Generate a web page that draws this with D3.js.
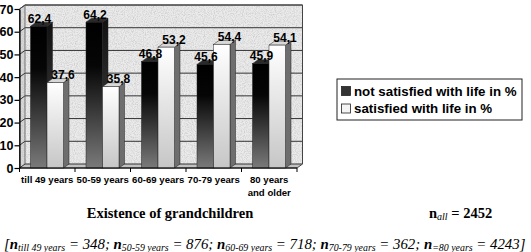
<!DOCTYPE html>
<html>
<head>
<meta charset="utf-8">
<script src="https://cdn.jsdelivr.net/npm/d3@7"></script>
<style>
  body { margin: 0; background: #fff; }
  svg { display: block; }
  .axis text { font-family: Arial, "Liberation Sans", sans-serif; font-weight: bold; }
</style>
</head>
<body>
<svg width="531" height="252"></svg>
<script>
// values
var categories = ["till 49 years", "50-59 years", "60-69 years", "70-79 years", "80 years|and older"];
var notSatisfied = [62.4, 64.2, 46.8, 45.6, 45.9];
var satisfied = [37.6, 35.8, 53.2, 54.4, 54.1];
var seriesNames = ["not satisfied with life in %", "satisfied with life in %"];
var yTicks = [0, 10, 20, 30, 40, 50, 60, 70];
var nLabels = ["till 49 years", "50-59 years", "60-69 years", "70-79 years", "=80 years"];
var nValues = [348, 876, 718, 362, 4243];
var nAll = 2452;

var svg = d3.select("svg");
var defs = svg.append("defs");

// speckled wall texture
var f = defs.append("filter").attr("id", "speck").attr("x", 0).attr("y", 0).attr("width", "100%").attr("height", "100%");
f.append("feTurbulence").attr("type", "fractalNoise").attr("baseFrequency", 0.9).attr("numOctaves", 2).attr("seed", 4).attr("result", "n");
f.append("feColorMatrix").attr("in", "n").attr("type", "matrix")
    .attr("values", "0 0 0 0 0.45  0 0 0 0 0.45  0 0 0 0 0.45  1.3 0 0 0 -0.5").attr("result", "g");
f.append("feComposite").attr("in", "g").attr("in2", "SourceGraphic").attr("operator", "in").attr("result", "c");
var fm = f.append("feMerge");
fm.append("feMergeNode").attr("in", "SourceGraphic");
fm.append("feMergeNode").attr("in", "c");

function gradient(id, stops) {
    var lg = defs.append("linearGradient").attr("id", id).attr("x1", 0).attr("y1", 0).attr("x2", 0).attr("y2", 1);
    stops.forEach(function (s) { lg.append("stop").attr("offset", s[0]).attr("stop-color", s[1]); });
}
gradient("darkFront", [[0, "#000"], [0.3, "#060606"], [1, "#7a7a7a"]]);
gradient("darkSide", [[0, "#111"], [1, "#4a4a4a"]]);
gradient("lightFront", [[0, "#fff"], [1, "#c6c6c6"]]);

var styles = [
    {front: "url(#darkFront)", side: "url(#darkSide)", top: "#2a2a2a", labelDx: -2},
    {front: "url(#lightFront)", side: "#6e6e6e", top: "#d8d8d8", labelDx: 5}
];

var left = 19.5, right = 297, dx = 5.5, dy = -4;
var y = d3.scaleLinear().domain([0, 70]).range([168, 9]);
var x = d3.scaleBand().domain(categories).range([left, right]);
var xs = d3.scaleBand().domain([0, 1]).range([11, 44]);

var g = svg.append("g");

// walls and floor
var y0 = y(0), yTop = y(70);
g.append("polygon")
    .attr("points", [[left + dx, yTop + dy], [right + dx, yTop + dy], [right + dx, y0 + dy], [left + dx, y0 + dy]].join(" "))
    .attr("fill", "#ebebeb").attr("filter", "url(#speck)");
g.append("polygon")
    .attr("points", [[left, yTop], [left + dx, yTop + dy], [left + dx, y0 + dy], [left, y0]].join(" "))
    .attr("fill", "#d8d8d8").attr("filter", "url(#speck)");
g.append("polygon")
    .attr("points", [[left, y0], [left + dx, y0 + dy], [right + dx, y0 + dy], [right, y0]].join(" "))
    .attr("fill", "#c2c2c2");

// gridlines on back and side wall
yTicks.forEach(function (t) {
    g.append("polyline")
        .attr("points", [[left, y(t)], [left + dx, y(t) + dy], [right + dx, y(t) + dy]].join(" "))
        .attr("fill", "none").attr("stroke", "#333").attr("stroke-width", 1);
});
g.append("polygon")
    .attr("points", [[left + dx, yTop + dy], [right + dx, yTop + dy], [right + dx, y0 + dy], [right, y0], [left, y0], [left, yTop]].join(" "))
    .attr("fill", "none").attr("stroke", "#444").attr("stroke-width", 1);
g.append("line").attr("x1", left + dx).attr("x2", left + dx).attr("y1", yTop + dy).attr("y2", y0 + dy)
    .attr("stroke", "#555").attr("stroke-width", 0.8);

// bars
var series = [notSatisfied, satisfied];
var bw = xs.bandwidth();
var labels = [];
categories.forEach(function (c, i) {
    series.forEach(function (vals, j) {
        var v = vals[i];
        var x0 = x(c) + xs(j), yv = y(v), st = styles[j];
        var bar = g.append("g");
        bar.append("polygon")
            .attr("points", [[x0 + bw, yv], [x0 + bw + dx, yv + dy], [x0 + bw + dx, y0 + dy], [x0 + bw, y0]].join(" "))
            .attr("fill", st.side).attr("stroke", "#222").attr("stroke-width", 0.5);
        bar.append("polygon")
            .attr("points", [[x0, yv], [x0 + dx, yv + dy], [x0 + bw + dx, yv + dy], [x0 + bw, yv]].join(" "))
            .attr("fill", st.top).attr("stroke", "#222").attr("stroke-width", 0.5);
        bar.append("rect")
            .attr("x", x0).attr("y", yv).attr("width", bw).attr("height", y0 - yv)
            .attr("fill", st.front).attr("stroke", "#222").attr("stroke-width", 0.5);
        labels.push({x: x0 + bw / 2 + dx / 2 + st.labelDx, y: yv - 3.5, v: v});
    });
});
g.selectAll(".val").data(labels).enter().append("text")
    .attr("class", "val")
    .attr("x", function (d) { return d.x; }).attr("y", function (d) { return d.y; })
    .attr("text-anchor", "middle")
    .style("font", "bold 12px Arial, 'Liberation Sans', sans-serif")
    .text(function (d) { return d3.format(".1f")(d.v).replace(".", ","); });

// y axis
var yAxis = g.append("g").attr("class", "axis").attr("transform", "translate(" + left + ",0)")
    .call(d3.axisLeft(y).tickValues(yTicks).tickSize(5).tickSizeOuter(0).tickPadding(1));
yAxis.selectAll("path, line").attr("stroke", "#000").attr("stroke-width", 1.2);
yAxis.selectAll("text").style("font-size", "12.5px").attr("fill", "#000");

// category axis: ticks on band boundaries, labels in band centres
var bounds = categories.map(function (c) { return x(c); }).concat([right]);
g.selectAll(".xt").data(bounds).enter().append("line")
    .attr("x1", function (d) { return d; }).attr("x2", function (d) { return d; })
    .attr("y1", y0).attr("y2", y0 + 4).attr("stroke", "#000");
g.append("line").attr("x1", left).attr("x2", right).attr("y1", y0).attr("y2", y0).attr("stroke", "#000").attr("stroke-width", 1.2);
categories.forEach(function (c) {
    var t = g.append("text").attr("text-anchor", "middle")
        .style("font", "bold 9.6px Arial, 'Liberation Sans', sans-serif");
    c.split("|").forEach(function (line, k) {
        t.append("tspan").attr("x", x(c) + x.bandwidth() / 2).attr("y", 183 + k * 12.5).text(line);
    });
});

// legend
var leg = svg.append("g").attr("transform", "translate(337,79)");
leg.append("rect").attr("width", 185).attr("height", 41).attr("fill", "#fff").attr("stroke", "#222");
seriesNames.forEach(function (name, j) {
    var yy = 12 + j * 17.5;
    leg.append("rect").attr("x", 4.5).attr("y", yy - 4.5).attr("width", 9).attr("height", 9)
        .attr("fill", j === 0 ? "#333" : "#f4f4f4").attr("stroke", "#222").attr("stroke-width", 0.8);
    leg.append("text").attr("x", 17).attr("y", yy + 4.8)
        .style("font", "bold 13.3px Arial, 'Liberation Sans', sans-serif").text(name);
});

// captions
var serif = "'Liberation Serif', 'Times New Roman', serif";
svg.append("text").attr("x", 170).attr("y", 218).attr("text-anchor", "middle")
    .style("font", "bold 14.5px " + serif).text("Existence of grandchildren");

var na = svg.append("text").attr("x", 429).attr("y", 218).style("font", "bold 14.5px " + serif);
na.append("tspan").text("n");
na.append("tspan").attr("dy", 2).style("font", "italic 10px " + serif).text("all");
na.append("tspan").attr("dy", -2).text(" = " + nAll);

var foot = svg.append("text").attr("x", 4).attr("y", 249).style("font", "italic 15px " + serif);
foot.append("tspan").text("[");
nLabels.forEach(function (lab, i) {
    foot.append("tspan").style("font-weight", "bold").text("n");
    foot.append("tspan").attr("class", "sub").attr("dy", 2).style("font-size", "10px").text(lab);
    foot.append("tspan").attr("dy", -2).text(" = " + nValues[i] + (i < nLabels.length - 1 ? ";  " : "]"));
});
// fit the footnote between x=4 and x=526
var k = 522 / foot.node().getComputedTextLength();
foot.style("font-size", (15 * k) + "px");
foot.selectAll(".sub").style("font-size", (10 * k) + "px");
</script>
</body>
</html>
